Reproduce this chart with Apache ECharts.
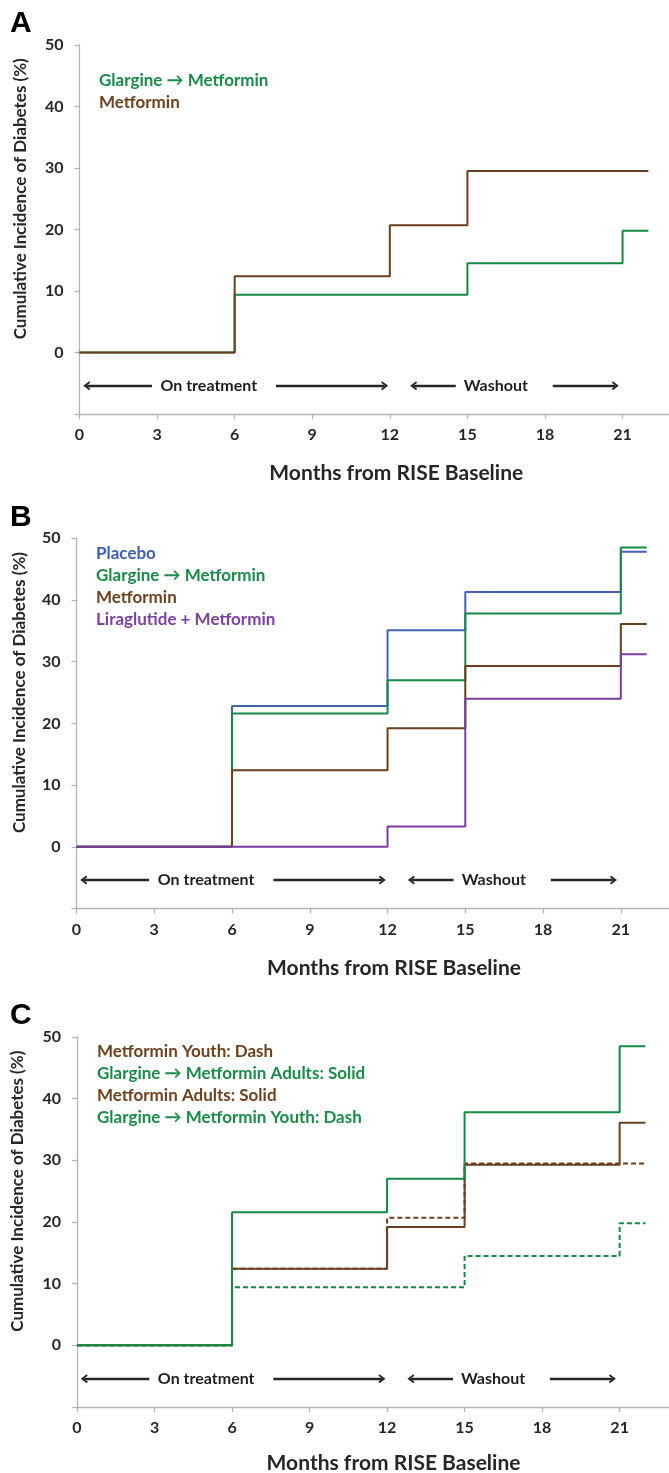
<!DOCTYPE html>
<html>
<head>
<meta charset="utf-8">
<script src="https://cdn.jsdelivr.net/npm/echarts@6/dist/echarts.min.js"></script>
<style>
html,body{margin:0;padding:0;background:#fff;}
#chart{width:669px;height:1473px;}
</style>
</head>
<body>
<div id="chart"></div>
<script>
// ---- data ----
const months = [0, 6, 12, 15, 21, 22];
const xTicks = [0, 3, 6, 9, 12, 15, 18, 21];
const yTicks = [0, 10, 20, 30, 40, 50];
// Youth cohorts
const glargineYouth   = [0, 9.4, 9.4, 14.5, 19.8, 19.8];
const metforminYouth  = [0, 12.4, 20.7, 29.5, 29.5, 29.5];
// Adult cohorts
const placeboAdults     = [0, 22.8, 35.1, 41.3, 47.8, 47.8];
const glargineAdults    = [0, 21.6, 27.0, 37.8, 48.5, 48.5];
const metforminAdults   = [0, 12.4, 19.2, 29.3, 36.1, 36.1];
const liraglutideAdults = [0, 0, 3.3, 24.0, 31.2, 31.2];
// phase annotations (months)
const phaseNames = ['On treatment', 'Washout'];
const phaseCenters = [5.0, 16.1];
const phaseArrows = [[2.8, 0.28], [7.6, 11.8], [14.55, 12.92], [18.3, 20.72]];
const phaseLevel = -5.4;

const panelLetters = ['A', 'B', 'C'];
const xTitle = 'Months from RISE Baseline';
const yTitle = 'Cumulative Incidence of Diabetes (%)';

// ---- styles ----
const GREEN = '#148a45', BROWN = '#6b3e1d', BLUE = '#4262b2', PURPLE = '#7b3d9f';
const GREEN_T = '#1a8c48', BROWN_T = '#6e421f', BLUE_T = '#3f5fb3', PURPLE_T = '#7c3fa2';
const FONT = 'Lato, "Open Sans", sans-serif';
const DARK = '#262626';

const pts = arr => months.map((m, i) => [m, arr[i]]);

const panels = [
  {left: 79.5, top: 45, h: 369, scale: 25.86, legTop: 72, legLeft: 94, yx: 20.5, nameGap: 49,
   series: [
     {name: 'Glargine \u2192 Metformin', data: glargineYouth, color: GREEN},
     {name: 'Metformin', data: metforminYouth, color: BROWN}
   ],
   legend: [['Glargine \u2192 Metformin', GREEN_T], ['Metformin', BROWN_T]]},
  {left: 76.5, top: 538.3, h: 370.2, scale: 25.92, legTop: 545, legLeft: 91, yx: 19.5, nameGap: 49,
   series: [
     {name: 'Placebo', data: placeboAdults, color: BLUE},
     {name: 'Glargine \u2192 Metformin', data: glargineAdults, color: GREEN},
     {name: 'Metformin', data: metforminAdults, color: BROWN},
     {name: 'Liraglutide + Metformin', data: liraglutideAdults, color: PURPLE}
   ],
   legend: [['Placebo', BLUE_T], ['Glargine \u2192 Metformin', GREEN_T], ['Metformin', BROWN_T], ['Liraglutide + Metformin', PURPLE_T]]},
  {left: 77, top: 1037, h: 370, scale: 25.84, legTop: 1043, legLeft: 92, yx: 17.5, nameGap: 46,
   series: [
     {name: 'Metformin Adults: Solid', data: metforminAdults, color: BROWN},
     {name: 'Metformin Youth: Dash', data: metforminYouth, color: BROWN, dash: true},
     {name: 'Glargine \u2192 Metformin Adults: Solid', data: glargineAdults, color: GREEN},
     {name: 'Glargine \u2192 Metformin Youth: Dash', data: glargineYouth, color: GREEN, dash: true}
   ],
   legend: [['Metformin Youth: Dash', BROWN_T], ['Glargine \u2192 Metformin Adults: Solid', GREEN_T], ['Metformin Adults: Solid', BROWN_T], ['Glargine \u2192 Metformin Youth: Dash', GREEN_T]]}
];

const XMAX = 24.5;
const grid = [], xAxis = [], yAxis = [], series = [], legend = [], graphic = [];
const chevron = 'path://M5,0L10,8.6L8.3,10L5,4.3L1.7,10L0,8.6Z';

panels.forEach((p, i) => {
  grid.push({left: p.left, top: p.top, width: XMAX * p.scale, height: p.h,
    containLabel: false, outerBoundsMode: 'none'});
  xAxis.push({
    type: 'value', gridIndex: i, min: 0, max: XMAX, interval: 3,
    axisLine: {onZero: false, lineStyle: {color: '#b4b4b4', width: 1.3}},
    axisTick: {show: true, length: 5, lineStyle: {color: '#b4b4b4', width: 1.3}},
    splitLine: {show: false},
    axisLabel: {margin: 13, color: DARK, fontFamily: FONT, fontWeight: 'bold', fontSize: 16,
      formatter: v => xTicks.indexOf(v) >= 0 ? String(v) : ''},
    name: xTitle, nameLocation: 'middle', nameGap: p.nameGap,
    nameTextStyle: {color: DARK, fontFamily: FONT, fontWeight: 'bold', fontSize: 21}
  });
  yAxis.push({
    type: 'value', gridIndex: i, min: -10, max: 50, interval: 10,
    axisLine: {show: true, lineStyle: {color: '#b4b4b4', width: 1.3}},
    axisTick: {show: true, length: 5, lineStyle: {color: '#b4b4b4', width: 1.3}},
    splitLine: {show: false},
    axisLabel: {margin: 16, color: DARK, fontFamily: FONT, fontWeight: 'bold', fontSize: 16,
      formatter: v => yTicks.indexOf(v) >= 0 ? String(v) : ''}
  });
  p.series.forEach(s => {
    series.push({
      type: 'line', name: s.name, xAxisIndex: i, yAxisIndex: i,
      data: pts(s.data), step: 'end', symbol: 'none', showSymbol: false,
      color: s.color,
      lineStyle: {color: s.color, width: 2, type: s.dash ? [5, 3] : 'solid'},
      emphasis: {disabled: true}, animation: false
    });
  });
  // phase annotations
  series.push({
    type: 'scatter', name: 'phase' + i, xAxisIndex: i, yAxisIndex: i,
    symbolSize: 1, itemStyle: {color: 'rgba(255,255,255,0)', opacity: 1}, silent: true, animation: false,
    data: phaseNames.map((n, k) => ({name: n, value: [phaseCenters[k], phaseLevel]})),
    label: {show: true, position: 'inside', formatter: '{b}', color: '#1e1e1e', opacity: 1,
      textBorderWidth: 0, fontFamily: FONT, fontSize: 16, fontWeight: 'bold'},
    markLine: {
      silent: true, animation: false, symbol: ['none', chevron], symbolSize: [9, 7],
      label: {show: false},
      lineStyle: {color: DARK, width: 2.4, type: 'solid', opacity: 1},
      emphasis: {disabled: true},
      data: phaseArrows.map(a => [{coord: [a[0], phaseLevel]}, {coord: [a[1], phaseLevel]}])
    }
  });
  legend.push({
    orient: 'vertical', left: p.legLeft, top: p.legTop, icon: 'none',
    itemWidth: 0, itemHeight: 16, itemGap: 5, selectedMode: false, padding: 0,
    textStyle: {fontFamily: FONT, fontWeight: 'bold', fontSize: 17},
    data: p.legend.map(l => ({name: l[0], textStyle: {color: l[1]}}))
  });
  // y-axis title centred on 0..50 range
  graphic.push({
    type: 'text', x: p.yx, y: p.top + p.h * 25 / 60, rotation: Math.PI / 2,
    style: {text: yTitle, fill: DARK, font: 'bold 17px ' + FONT, align: 'center', verticalAlign: 'middle'}
  });
  graphic.push({
    type: 'text', x: 10, y: p.top - 21,
    style: {text: panelLetters[i], fill: '#000', font: 'bold 30px "Liberation Sans", Arial, sans-serif', align: 'left', verticalAlign: 'middle'}
  });
});

const chart = echarts.init(document.getElementById('chart'), null, {renderer: 'canvas'});
chart.setOption({
  backgroundColor: '#fff',
  animation: false,
  grid, xAxis, yAxis, series, legend, graphic
});
</script>
</body>
</html>
